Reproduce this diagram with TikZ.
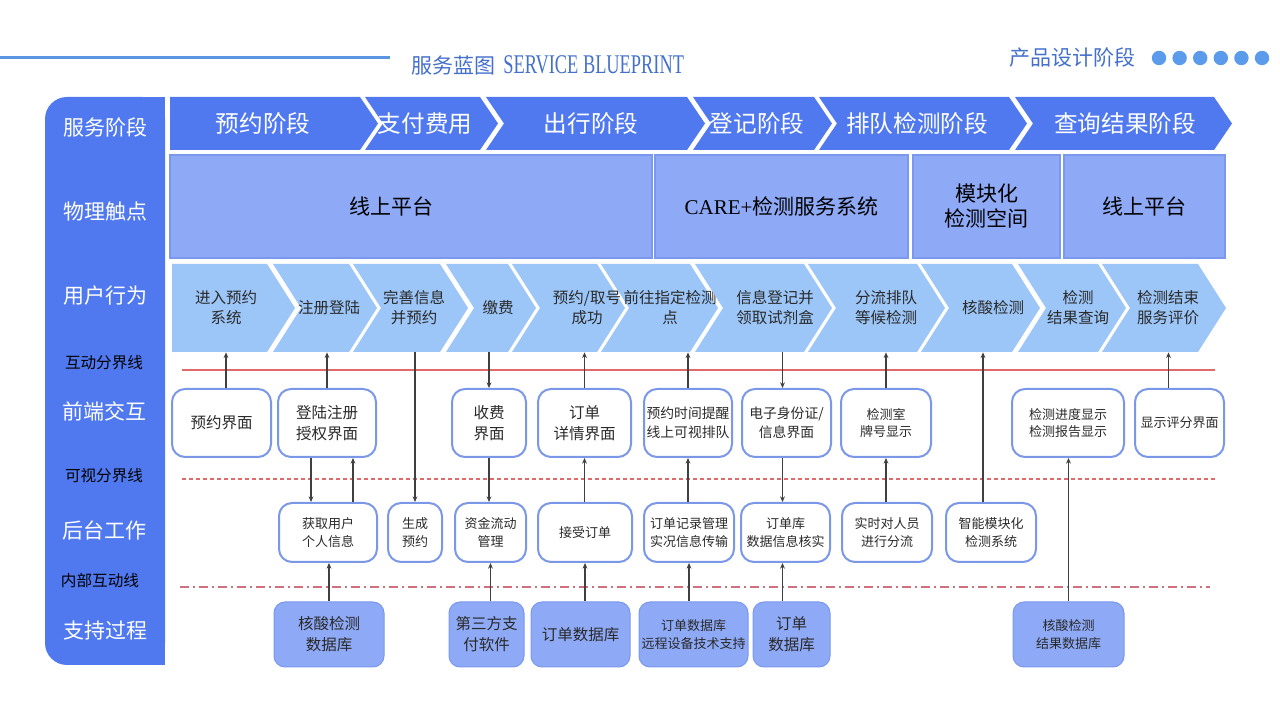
\documentclass[tikz,border=0pt]{standalone}
\usepackage{fontspec}
\usepackage{graphicx}
\setmainfont{Noto Sans CJK SC}
\newfontfamily\latserif{Liberation Serif}
\usetikzlibrary{arrows.meta,calc}
\definecolor{stageblue}{HTML}{5079F0}
\definecolor{touchblue}{HTML}{8EA9F5}
\definecolor{touchedge}{HTML}{7A98EE}
\definecolor{actblue}{HTML}{9CC6F8}
\definecolor{boxedge}{HTML}{7B98E8}
\definecolor{headline}{HTML}{5B96E2}
\definecolor{titleblue}{HTML}{4470CC}
\definecolor{dotblue}{HTML}{5B9BEB}
\definecolor{redline}{HTML}{E06A6A}
\definecolor{dashdot}{HTML}{D0707E}
\definecolor{conncol}{HTML}{404040}
\definecolor{txt}{HTML}{2A2A2A}
\newcommand\chev[9]{%
  \path[chevfill] (#2,#4) -- (#3,#4) -- ({#3+#6},{(#4+#5)/2}) -- (#3,#5) -- (#2,#5) -- ({#2+#7},{(#4+#5)/2}) -- cycle;
  \node[chevtext, minimum height={(#5-#4)*0.5pt}] (#1) at (#8,{(#4+#5)/2}) {#9};
}
\newcommand\bx[7]{%
  \node[#1, minimum width={(#4-#3)*0.5pt}, minimum height={(#6-#5)*0.5pt}] (#2) at ({(#3+#4)/2},{(#5+#6)/2}) {#7};
}
\tikzset{
  stagefill/.style={fill=stageblue},
  actfill/.style={fill=actblue},
  stagetext/.style={text=white, font=\fontsize{11.8}{14}\selectfont, inner sep=0pt, align=center},
  acttext/.style={text=txt, font=\fontsize{7.75}{10}\selectfont, inner sep=0pt, align=center},
  febox/.style={draw=boxedge, line width=1pt, fill=white, rounded corners=6.5pt, inner sep=0pt, align=center, text=txt},
  ssbox/.style={draw=touchedge, line width=0.5pt, fill=touchblue, rounded corners=5.5pt, inner sep=0pt, align=center, text=txt},
  tpbox/.style={draw=touchedge, line width=0.6pt, fill=touchblue, inner sep=0pt, align=center, text=black, font=\fontsize{10.5}{12.5}\selectfont},
  fA/.style={font=\fontsize{7.75}{10.5}\selectfont},
  fB/.style={font=\fontsize{6.9}{9.5}\selectfont},
  fC/.style={font=\fontsize{6.5}{8.8}\selectfont},
  lbig/.style={text=white, font=\fontsize{10.5}{12}\selectfont, inner sep=0pt},
  lsmall/.style={text=black, font=\fontsize{7.8}{9}\selectfont, inner sep=0pt},
  conn/.style={draw=conncol, line width=0.55pt},
  arr/.style={conn, -{Stealth[length=2.8pt,width=2.4pt]}},
}
\begin{document}
\begin{tikzpicture}[x=0.5pt,y=-0.5pt]
\useasboundingbox (0,0) rectangle (1280,715);
\fill[white] (0,0) rectangle (1280,715);

% header
\draw[headline, line width=1.5pt] (0,58) -- (390,58);
\node[anchor=west, text=titleblue, inner sep=0pt, font=\fontsize{10.5}{12}\selectfont] (title) at (411,65)
  {服务蓝图\hspace{4pt}\scalebox{0.68}[1]{\latserif\fontsize{13.5}{14}\selectfont SERVICE BLUEPRINT}};
\node[anchor=west, text=titleblue, inner sep=0pt, font=\fontsize{10.5}{12}\selectfont] (phase) at (1009,58) {产品设计阶段};
\foreach \i in {0,...,5} \fill[dotblue] ({1159+20.6*\i},58) circle[radius=3.6pt];

% left column
\fill[stageblue, rounded corners=11pt] (45,97) rectangle (165,665);
\fill[stageblue] (120,97) rectangle (165,665);
\node[lbig] (l1) at (105,128) {服务阶段};
\node[lbig] (l2) at (105,212) {物理触点};
\node[lbig] (l3) at (105,296) {用户行为};
\node[lsmall] (l4) at (104,363) {互动分界线};
\node[lbig] (l5) at (104,411) {前端交互};
\node[lsmall] (l6) at (104,476) {可视分界线};
\node[lbig] (l7) at (104,531) {后台工作};
\node[lsmall] (l8) at (100,581) {内部互动线};
\node[lbig] (l9) at (105,631) {支持过程};

% stage row
\tikzset{chevfill/.style=stagefill, chevtext/.style=stagetext}
\chev{st1}{170}{360}{97}{150}{18}{0}{263}{预约阶段}
\chev{st2}{365}{480}{97}{150}{18}{18}{425}{支付费用}
\chev{st3}{486}{687}{97}{150}{18}{18}{591}{出行阶段}
\chev{st4}{693}{814}{97}{150}{18}{18}{757}{登记阶段}
\chev{st5}{819}{1009}{97}{150}{18}{18}{917}{排队检测阶段}
\chev{st6}{1015}{1214}{97}{150}{18}{18}{1125}{查询结果阶段}

% touchpoints
\bx{tpbox}{tp1}{170}{652}{155}{258}{线上平台\hspace*{20pt}}
\bx{tpbox}{tp2}{655}{908}{155}{258}{{\latserif CARE+}检测服务系统}
\bx{tpbox}{tp3}{913}{1060}{155}{258}{模块化\\检测空间}
\bx{tpbox}{tp4}{1064}{1225}{155}{258}{线上平台}

% user actions
\tikzset{chevfill/.style=actfill, chevtext/.style=acttext}
\chev{ua1}{172}{267}{264}{352}{28}{0}{226}{进入预约\\系统}
\chev{ua2}{273}{349}{264}{352}{28}{28}{329}{注册登陆}
\chev{ua3}{353}{440}{264}{352}{28}{28}{414}{完善信息\\并预约}
\chev{ua4}{446}{508}{264}{352}{28}{28}{498}{缴费}
\chev{ua5}{512}{597}{264}{352}{28}{28}{587}{预约/取号\\成功}
\chev{ua6}{601}{690}{264}{352}{28}{28}{670}{前往指定检测\\点}
\chev{ua7}{695}{804}{264}{352}{28}{28}{775}{信息登记并\\领取试剂盒}
\chev{ua8}{808}{917}{264}{352}{28}{28}{886}{分流排队\\等候检测}
\chev{ua9}{921}{1012}{264}{352}{28}{28}{993}{核酸检测}
\chev{ua10}{1018}{1098}{264}{352}{28}{28}{1078}{检测\\结果查询}
\chev{ua11}{1102}{1198}{264}{352}{28}{28}{1168}{检测结束\\服务评价}

% separator lines
\draw[redline, line width=0.6pt] (182,370) -- (1215,370);
\draw[redline, line width=0.6pt, dash pattern=on 2pt off 1.5pt] (182,479) -- (1215,479);
\draw[dashdot, line width=0.7pt, dash pattern=on 4.5pt off 2pt on 1pt off 2pt] (180,587) -- (1210,587);

% front-end boxes
\bx{febox,fA}{fe1}{172}{271}{389}{457}{预约界面}
\bx{febox,fA}{fe2}{278}{376}{389}{457}{登陆注册\\授权界面}
\bx{febox,fA}{fe3}{452}{526}{389}{457}{收费\\界面}
\bx{febox,fA}{fe4}{538}{631}{389}{457}{订单\\详情界面}
\bx{febox,fB}{fe5}{644}{732}{389}{457}{预约时间提醒\\线上可视排队}
\bx{febox,fB}{fe6}{742}{831}{389}{457}{电子身份证/\\信息界面}
\bx{febox,fC}{fe7}{841}{931}{389}{457}{检测室\\牌号显示}
\bx{febox,fC}{fe8}{1012}{1124}{389}{457}{检测进度显示\\检测报告显示}
\bx{febox,fC}{fe9}{1135}{1224}{389}{457}{显示评分界面}

% back-end boxes
\bx{febox,fC}{be1}{279}{377}{503}{562}{获取用户\\个人信息}
\bx{febox,fC}{be2}{388}{442}{503}{562}{生成\\预约}
\bx{febox,fC}{be3}{455}{526}{503}{562}{资金流动\\管理}
\bx{febox,fC}{be4}{538}{632}{503}{562}{接受订单}
\bx{febox,fC}{be5}{644}{734}{503}{562}{订单记录管理\\实况信息传输}
\bx{febox,fC}{be6}{741}{830}{503}{562}{订单库\\数据信息核实}
\bx{febox,fC}{be7}{842}{932}{503}{562}{实时对人员\\进行分流}
\bx{febox,fC}{be8}{946}{1036}{503}{562}{智能模块化\\检测系统}

% support boxes
\bx{ssbox,fA}{ss1}{274}{384}{602}{667}{核酸检测\\数据库}
\bx{ssbox,fA}{ss2}{449}{524}{602}{667}{第三方支\\付软件}
\bx{ssbox,fA}{ss3}{531}{630}{602}{667}{订单数据库}
\bx{ssbox,fC}{ss4}{639}{748}{602}{667}{订单数据库\\远程设备技术支持}
\bx{ssbox,fA}{ss5}{753}{830}{602}{667}{订单\\数据库}
\bx{ssbox,fC}{ss6}{1013}{1124}{602}{667}{核酸检测\\结果数据库}

% connectors
\draw[arr] (ua1.south |- fe1.north) -- (ua1.south);
\draw[arr] (fe2.north) -- (fe2.north |- ua2.south);
\draw[arr] ([xshift=-8pt]fe2.south) -- ([xshift=-8pt]fe2.south |- be1.north);
\draw[arr] ([xshift=12.5pt]be1.north) -- ([xshift=12.5pt]be1.north |- fe2.south);
\draw[arr] (ss1.north) -- (ss1.north |- be1.south);
\draw[arr] (be2.north |- ua3.south) -- (be2.north);
\draw[arr] (fe3.north |- ua4.south) -- (fe3.north);
\draw[arr] (fe3.south) -- (fe3.south |- be3.north);
\draw[arr] (be3.south |- ss2.north) -- (be3.south);
\draw[arr] (fe4.north) -- (fe4.north |- ua5.south);
\draw[arr] (fe4.south |- be4.north) -- (fe4.south);
\draw[arr] (be4.south |- ss3.north) -- (be4.south);
\draw[arr] (fe5.north) -- (fe5.north |- ua6.south);
\draw[arr] (fe5.south |- be5.north) -- (fe5.south);
\draw[arr] (be5.south |- ss4.north) -- (be5.south);
\draw[arr] ([xshift=-2pt]fe6.north |- ua7.south) -- ([xshift=-2pt]fe6.north);
\draw[arr] ([xshift=-2pt]fe6.south) -- ([xshift=-2pt]fe6.south |- be6.north);
\draw[arr] ([xshift=-1.5pt]be6.south |- ss5.north) -- ([xshift=-1.5pt]be6.south);
\draw[arr] (fe7.north) -- (fe7.north |- ua8.south);
\draw[arr] (fe7.south |- be7.north) -- (fe7.south);
\draw[arr] ([xshift=-4pt]be8.north) -- ([xshift=-4pt]be8.north |- ua9.south);
\draw[arr] (ss6.north) -- (ss6.north |- fe8.south);
\draw[arr] ([xshift=-5.5pt]fe9.north) -- ([xshift=-5.5pt]fe9.north |- ua11.south);
\end{tikzpicture}
\end{document}
